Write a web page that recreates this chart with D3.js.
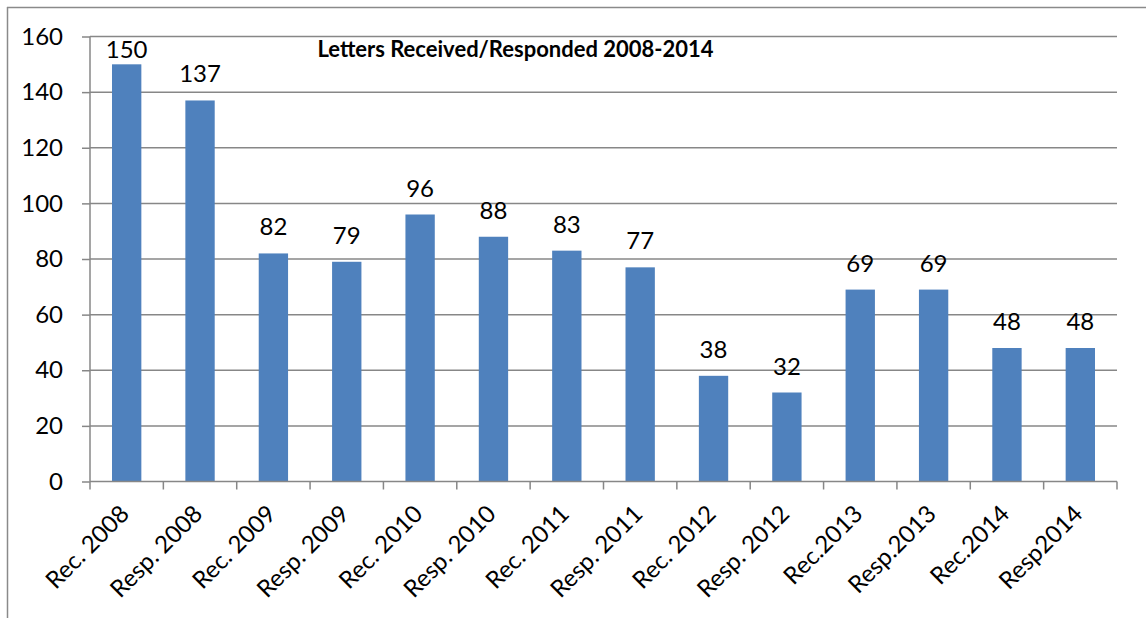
<!DOCTYPE html>
<html><head><meta charset="utf-8">
<script src="https://cdn.jsdelivr.net/npm/d3@7"></script>
<style>
html,body{margin:0;padding:0;background:#fff;}
svg{display:block;font-family:Lato, "Open Sans", sans-serif;}
</style></head>
<body>
<svg id="c" width="1146" height="618"></svg>
<script>
const categories = ["Rec. 2008","Resp. 2008","Rec. 2009","Resp. 2009","Rec. 2010","Resp. 2010","Rec. 2011","Resp. 2011","Rec. 2012","Resp. 2012","Rec.2013","Resp.2013","Rec.2014","Resp2014"];
const values = [150,137,82,79,96,88,83,77,38,32,69,69,48,48];
const yTicks = [0,20,40,60,80,100,120,140,160];
const title = "Letters Received/Responded 2008-2014";

const svg = d3.select("#c");
const L = 90, R = 1117, T = 36.5, B = 481.5;
const FS = 24;

// outer border (top and left only visible)
svg.append("line").attr("x1",7).attr("x2",1146).attr("y1",7.5).attr("y2",7.5).attr("stroke","#8a8a8a").attr("stroke-width",1.5);
svg.append("line").attr("x1",7.5).attr("x2",7.5).attr("y1",7).attr("y2",618).attr("stroke","#8a8a8a").attr("stroke-width",1.5);

const x = d3.scaleBand().domain(categories).range([L,R]).paddingInner(0).paddingOuter(0);
const y = d3.scaleLinear().domain([0,160]).range([B,T]);

// gridlines
svg.append("g").selectAll("line").data(yTicks.filter(d=>d>0)).join("line")
  .attr("x1",L).attr("x2",R).attr("y1",d=>y(d)).attr("y2",d=>y(d))
  .attr("stroke","#878787").attr("stroke-width",1.5);

// bars
const bw = x.bandwidth()*0.4;
svg.append("g").selectAll("rect").data(values).join("rect")
  .attr("x",(d,i)=>x(categories[i])+x.bandwidth()/2-bw/2)
  .attr("y",d=>y(d)).attr("width",bw).attr("height",d=>B-y(d))
  .attr("fill","#4F81BD");

// value labels
svg.append("g").selectAll("text").data(values).join("text")
  .attr("x",(d,i)=>x(categories[i])+x.bandwidth()/2)
  .attr("y",d=>Math.max(y(d)-18, T+21.5))
  .attr("text-anchor","middle").attr("font-size",FS).attr("fill","#000")
  .text(d=>d);

// y axis
const ya = svg.append("g").attr("transform",`translate(${L},0)`)
  .call(d3.axisLeft(y).tickValues(yTicks).tickSize(8).tickPadding(19));
ya.select(".domain").attr("stroke","#878787").attr("stroke-width",1.5).attr("d",`M0,${T}V${B}`);
ya.selectAll(".tick line").attr("stroke","#878787").attr("stroke-width",1.5);
ya.selectAll(".tick text").attr("font-size",FS).attr("font-family","Lato").attr("fill","#000");

// x axis
const xa = svg.append("g").attr("transform",`translate(0,${B})`)
  .call(d3.axisBottom(x).tickSize(0).tickFormat(""));
xa.select(".domain").attr("stroke","#878787").attr("stroke-width",1.5).attr("d",`M${L},0H${R}`);
xa.selectAll(".tick").remove();
const bounds = categories.map(c=>x(c)).concat([R]);
xa.append("g").selectAll("line").data(bounds).join("line")
  .attr("x1",d=>d).attr("x2",d=>d).attr("y1",0).attr("y2",8)
  .attr("stroke","#878787").attr("stroke-width",1.5);

// x labels
svg.append("g").selectAll("text").data(categories).join("text")
  .attr("transform",d=>`translate(${x(d)+x.bandwidth()/2-8},${B+22}) rotate(-45)`)
  .attr("text-anchor","end").attr("dy","0.7em").attr("font-size",FS).attr("fill","#000")
  .text(d=>d);

// title
svg.append("text").attr("x",515.5).attr("y",57).attr("text-anchor","middle")
  .attr("font-weight","bold").attr("font-size",22).attr("fill","#000")
  .text(title);
</script>
</body></html>
